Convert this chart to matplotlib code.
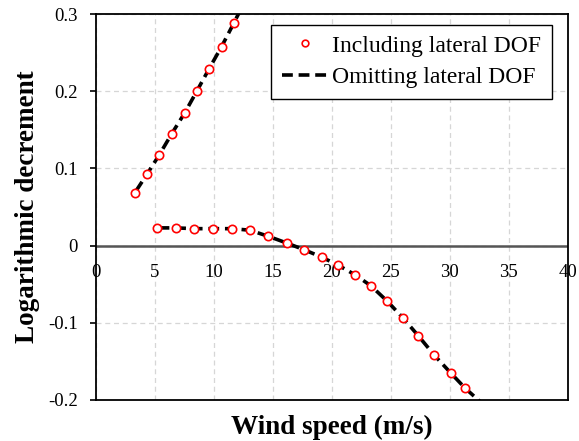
import matplotlib
matplotlib.use("Agg")
import matplotlib.pyplot as plt
import matplotlib.transforms as mtrans

plt.rcParams["font.family"] = ["Liberation Serif", "DejaVu Serif"]

# Logarithmic decrement vs. wind speed, two modes
incl_x_mode1 = [3.30, 4.34, 5.38, 6.42, 7.52, 8.54, 9.58, 10.65, 11.67]
incl_y_mode1 = [0.068, 0.093, 0.118, 0.145, 0.172, 0.200, 0.229, 0.258, 0.288]

incl_x_mode2 = [5.13, 6.74, 8.34, 9.95, 11.52, 13.05, 14.62, 16.15, 17.67, 19.12,
                20.55, 21.98, 23.30, 24.69, 26.04, 27.33, 28.68, 30.07, 31.31]
incl_y_mode2 = [0.023, 0.023, 0.022, 0.022, 0.022, 0.020, 0.012, 0.0035, -0.0055, -0.0148,
                -0.0255, -0.038, -0.052, -0.072, -0.094, -0.117, -0.142, -0.165, -0.185]

omit_x_mode1 = [3.40, 4.34, 5.38, 6.42, 7.52, 8.54, 9.58, 10.65, 11.67, 12.30]
omit_y_mode1 = [0.071, 0.093, 0.118, 0.145, 0.172, 0.200, 0.229, 0.258, 0.288, 0.307]

omit_x_mode2 = [5.30, 6.74, 8.34, 9.95, 11.52, 13.05, 14.62, 16.15, 17.67, 19.12,
                20.55, 21.98, 23.30, 24.69, 26.04, 27.33, 28.68, 30.07, 31.31, 32.70]
omit_y_mode2 = [0.023, 0.023, 0.022, 0.022, 0.022, 0.020, 0.012, 0.0035, -0.0055, -0.0148,
                -0.0255, -0.038, -0.052, -0.072, -0.094, -0.117, -0.142, -0.165, -0.185, -0.204]

x_ticks = [0, 5, 10, 15, 20, 25, 30, 35, 40]
y_ticks = [-0.2, -0.1, 0, 0.1, 0.2, 0.3]
y_tick_labels = ["-0.2", "-0.1", "0", "0.1", "0.2", "0.3"]

fig = plt.figure(figsize=(5.79, 4.41), dpi=100)
ax = fig.add_axes([0.1658, 0.093, 0.815, 0.875])

y_min, y_max = -0.2, 0.3
ax.set_xlim(0, 40)
ax.set_ylim(y_min, y_max)

ax.grid(True, color="#d6d6d6", linestyle=(0, (4, 3)), linewidth=0.9)
ax.set_axisbelow(True)
ax.axhline(0, color="#555555", linewidth=1.8, zorder=1.5)

line_kw = dict(color="black", linestyle=(0, (3, 1.6)), linewidth=2.6, zorder=2)
ax.plot(omit_x_mode1, omit_y_mode1, label="Omitting lateral DOF", **line_kw)
ax.plot(omit_x_mode2, omit_y_mode2, **line_kw)

mk_kw = dict(linestyle="none", marker="o", markersize=6, markerfacecolor="white",
             markeredgecolor="red", markeredgewidth=1.2, zorder=3)
ax.plot(incl_x_mode1, incl_y_mode1, label="Including lateral DOF", **mk_kw)
ax.plot(incl_x_mode2, incl_y_mode2, **mk_kw)

# y ticks on the left spine
ax.set_yticks(y_ticks)
ax.set_yticklabels(y_tick_labels)
ax.tick_params(axis="y", direction="out", length=4.5, width=1.2, labelsize=13.5, pad=8.5)

# x tick labels sit just under the zero line
ax.set_xticks(x_ticks)
ax.set_xticklabels([str(v) for v in x_ticks])
ax.tick_params(axis="x", length=0, labelsize=13.5, pad=0)
zero_frac = (0 - y_min) / (y_max - y_min)
label_shift = mtrans.ScaledTranslation(0, -13.0 / 72, fig.dpi_scale_trans)
for t in ax.xaxis.get_major_ticks():
    t.label1.set_y(zero_frac)
    t.label1.set_transform(ax.get_xaxis_transform() + label_shift)
    t.label1.set_verticalalignment("top")

for s in ax.spines.values():
    s.set_linewidth(1.3)
    s.set_color("black")

ax.set_xlabel("Wind speed (m/s)", fontsize=19.5, fontweight="bold")
ax.set_ylabel("Logarithmic decrement", fontsize=19.5, fontweight="bold")
ax.xaxis.label.set_verticalalignment("center")
ax.xaxis.set_label_coords(0.5, -0.072)
ax.yaxis.label.set_verticalalignment("center")
ax.yaxis.set_label_coords(-0.145, 0.5)

handles, labels = ax.get_legend_handles_labels()
leg = ax.legend([handles[1], handles[0]], [labels[1], labels[0]],
                loc="upper left", bbox_to_anchor=(0.371, 0.973), bbox_transform=ax.transAxes,
                borderaxespad=0, fontsize=17,
                frameon=True, fancybox=False, edgecolor="black", framealpha=1,
                handlelength=2.0, handletextpad=0.15, borderpad=0.45, labelspacing=0.42,
                markerscale=0.8, numpoints=1)
leg.get_frame().set_linewidth(1.0)

fig.savefig("out.png", dpi=100)
